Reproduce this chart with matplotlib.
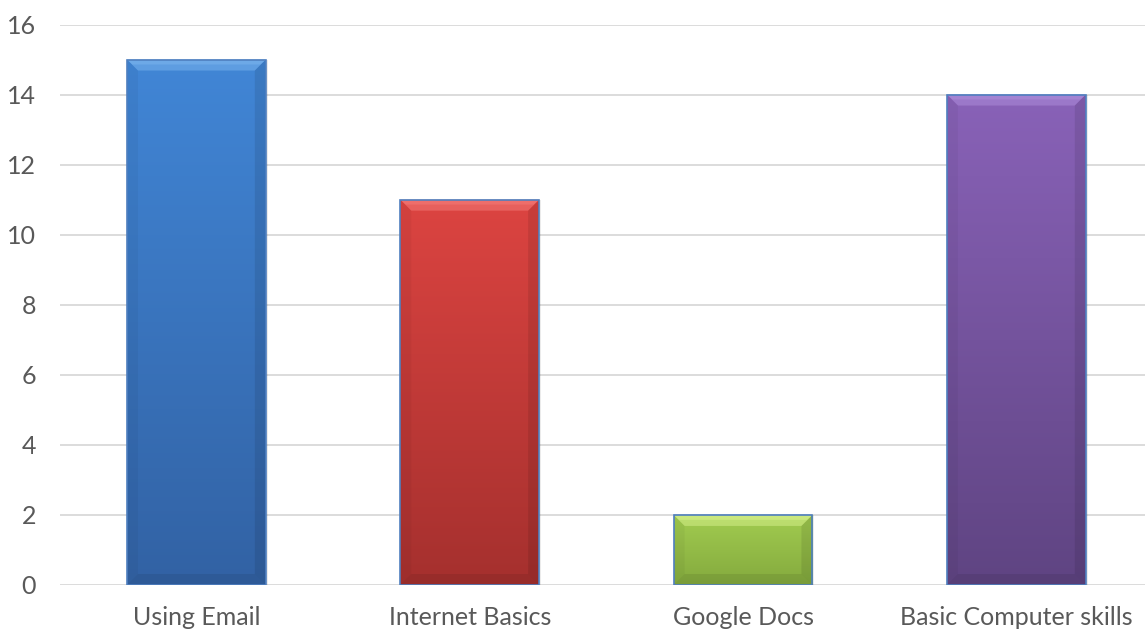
import numpy as np
import matplotlib.pyplot as plt
from matplotlib.colors import LinearSegmentedColormap
from matplotlib.patches import Polygon

categories = ["Using Email", "Internet Basics", "Google Docs", "Basic Computer skills"]
values = [15, 11, 2, 14]
# (highlight, top, bottom) per bar
bar_colors = [
    ("#7DB6EE", "#4186D6", "#3262A4"),
    ("#F57D7A", "#DC4441", "#A5302E"),
    ("#D8F28E", "#A2CC50", "#84AA3E"),
    ("#AE8FDB", "#8962B8", "#5F4482"),
]
yticks = [0, 2, 4, 6, 8, 10, 12, 14, 16]

plt.rcParams['font.family'] = ['Lato', 'DejaVu Sans']

W, H = 1145, 632
fig = plt.figure(figsize=(W / 100, H / 100), dpi=100)
left_px, right_px, top_px, bot_px = 59.75, 1153.0, 24.5, 585.0
ax = fig.add_axes([left_px / W, (H - bot_px) / H, (right_px - left_px) / W, (bot_px - top_px) / H])
ax.set_xlim(-0.5, 3.5)
ax.set_ylim(0, 16)

ppx = 4.0 / (right_px - left_px)   # data units per pixel in x
ppy = 16.0 / (bot_px - top_px)     # data units per pixel in y

ax.set_yticks(yticks)
ax.yaxis.grid(True, color="#D9D9D9", linewidth=1.3)
ax.set_axisbelow(True)
for s in ["top", "right", "left", "bottom"]:
    ax.spines[s].set_visible(False)
ax.tick_params(axis="both", length=0, labelsize=18, labelcolor="#595959")
ax.tick_params(axis="y", pad=17)
ax.tick_params(axis="x", pad=15)
ax.set_xticks(range(len(categories)))
ax.set_xticklabels(categories)

width = 0.508
bev = 11
for i, (v, (hi, c1, c2)) in enumerate(zip(values, bar_colors)):
    x0, x1 = i - width / 2, i + width / 2
    # soft shadow to the right
    ax.add_patch(plt.Rectangle((x0 + 2 * ppx, 0), width, v, color="#000000", alpha=0.08, zorder=2, lw=0))
    bar = ax.bar(i, v, width=width, color="none", edgecolor="#4F7FBF", linewidth=1.2, zorder=4)[0]
    cmap = LinearSegmentedColormap.from_list("g%d" % i, [c2, c1])
    grad = np.linspace(0, 1, 256).reshape(-1, 1)
    im = ax.imshow(grad, cmap=cmap, origin="lower", aspect="auto",
                   extent=[x0, x1, 0, v], zorder=3)
    im.set_clip_path(bar)
    bx, by = bev * ppx, bev * ppy
    # top bevel (highlight)
    ax.add_patch(Polygon([[x0, v], [x1, v], [x1 - bx, v - by], [x0 + bx, v - by]],
                         closed=True, color=hi, alpha=0.5, lw=0, zorder=3.5))
    ax.add_patch(Polygon([[x0, v], [x1, v], [x1 - bx * 0.5, v - by * 0.45], [x0 + bx * 0.5, v - by * 0.45]],
                         closed=True, color=hi, alpha=0.5, lw=0, zorder=3.6))
    # side bevels (darker)
    ax.add_patch(Polygon([[x1, v], [x1, 0], [x1 - bx, by], [x1 - bx, v - by]],
                         closed=True, color="#000000", alpha=0.09, lw=0, zorder=3.5))
    ax.add_patch(Polygon([[x0, v], [x0, 0], [x0 + bx, by], [x0 + bx, v - by]],
                         closed=True, color="#000000", alpha=0.04, lw=0, zorder=3.5))
    # bottom bevel
    ax.add_patch(Polygon([[x0, 0], [x1, 0], [x1 - bx, by], [x0 + bx, by]],
                         closed=True, color="#000000", alpha=0.08, lw=0, zorder=3.5))

ax.set_xlim(-0.5, 3.5)
ax.set_ylim(0, 16)

fig.savefig("out.png", dpi=100)
